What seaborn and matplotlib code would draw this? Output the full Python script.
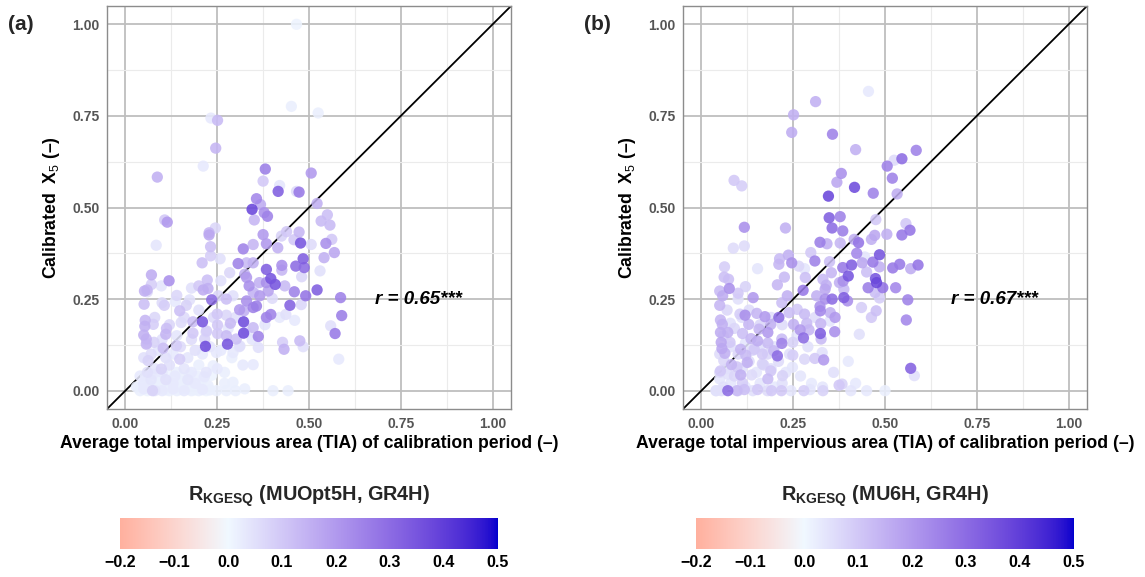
import numpy as np
import pandas as pd
import matplotlib
matplotlib.use("Agg")
import matplotlib.pyplot as plt
import seaborn as sns
from matplotlib.colors import ListedColormap, Normalize
from matplotlib.cm import ScalarMappable

# ---------------------------------------------------------------------------
# Data: TIA (x), calibrated X5 (y) and R_KGESQ (colour) per catchment
# ---------------------------------------------------------------------------
tia_a = [
    0.466, 0.452, 0.525, 0.233, 0.251, 0.246, 0.212, 0.087, 0.381, 0.506,
    0.375, 0.420, 0.416, 0.466, 0.473, 0.357, 0.368, 0.345, 0.522, 0.378,
    0.387, 0.550, 0.533, 0.557, 0.351, 0.107, 0.114, 0.245, 0.228, 0.228,
    0.439, 0.425, 0.473, 0.375, 0.477, 0.459, 0.506, 0.546, 0.562, 0.384,
    0.348, 0.321, 0.415, 0.084, 0.232, 0.569, 0.541, 0.484, 0.232, 0.258,
    0.209, 0.307, 0.330, 0.348, 0.426, 0.464, 0.487, 0.426, 0.384, 0.325,
    0.284, 0.530, 0.071, 0.119, 0.223, 0.330, 0.396, 0.408, 0.365, 0.480,
    0.434, 0.098, 0.071, 0.200, 0.212, 0.225, 0.337, 0.384, 0.052, 0.059,
    0.460, 0.522, 0.389, 0.348, 0.253, 0.275, 0.293, 0.366, 0.491, 0.586,
    0.400, 0.479, 0.235, 0.175, 0.136, 0.051, 0.106, 0.166, 0.330, 0.357,
    0.348, 0.311, 0.323, 0.448, 0.148, 0.250, 0.275, 0.384, 0.396, 0.437,
    0.589, 0.054, 0.461, 0.210, 0.322, 0.286, 0.184, 0.152, 0.076, 0.053,
    0.251, 0.559, 0.348, 0.112, 0.221, 0.322, 0.251, 0.571, 0.050, 0.110,
    0.184, 0.275, 0.362, 0.057, 0.216, 0.302, 0.475, 0.078, 0.278, 0.057,
    0.428, 0.218, 0.484, 0.139, 0.103, 0.432, 0.362, 0.312, 0.248, 0.293,
    0.148, 0.062, 0.581, 0.348, 0.239, 0.098, 0.293, 0.074, 0.248, 0.325,
    0.275, 0.402, 0.443,
    0.04, 0.05, 0.06, 0.07, 0.08, 0.09, 0.10, 0.11, 0.12, 0.13,
    0.14, 0.15, 0.16, 0.17, 0.18, 0.19, 0.20, 0.21, 0.22, 0.23,
    0.05, 0.07, 0.09, 0.11, 0.13, 0.15, 0.17, 0.19, 0.21, 0.06,
    0.08, 0.10, 0.12, 0.14, 0.16, 0.18, 0.20, 0.22, 0.25, 0.27,
    0.05, 0.07, 0.09, 0.11, 0.13, 0.15, 0.17, 0.19, 0.21, 0.23,
    0.26, 0.29, 0.31, 0.06, 0.10, 0.14, 0.18, 0.22, 0.12, 0.16,
    0.08, 0.20, 0.24, 0.28, 0.30, 0.33, 0.10, 0.14, 0.18, 0.06,
    0.26, 0.35, 0.42, 0.38, 0.04, 0.03, 0.345, 0.32, 0.27, 0.30,
    0.045, 0.065, 0.085, 0.105, 0.125, 0.145, 0.165, 0.185, 0.205, 0.225,
    0.055, 0.075, 0.095, 0.115, 0.135, 0.155, 0.175, 0.195, 0.215, 0.235,
]
x5_a = [
    1.000, 0.776, 0.758, 0.744, 0.738, 0.662, 0.613, 0.583, 0.605, 0.594,
    0.572, 0.560, 0.544, 0.544, 0.542, 0.524, 0.508, 0.495, 0.511, 0.486,
    0.476, 0.480, 0.463, 0.452, 0.466, 0.466, 0.460, 0.444, 0.431, 0.425,
    0.434, 0.422, 0.433, 0.426, 0.403, 0.412, 0.399, 0.402, 0.413, 0.401,
    0.399, 0.387, 0.390, 0.397, 0.393, 0.377, 0.363, 0.360, 0.368, 0.360,
    0.349, 0.347, 0.349, 0.349, 0.342, 0.340, 0.336, 0.329, 0.331, 0.318,
    0.322, 0.327, 0.316, 0.300, 0.302, 0.309, 0.306, 0.290, 0.295, 0.311,
    0.286, 0.286, 0.290, 0.286, 0.275, 0.279, 0.286, 0.295, 0.272, 0.275,
    0.270, 0.275, 0.272, 0.268, 0.259, 0.250, 0.259, 0.259, 0.259, 0.254,
    0.252, 0.235, 0.248, 0.248, 0.243, 0.236, 0.233, 0.233, 0.245, 0.231,
    0.227, 0.221, 0.218, 0.233, 0.218, 0.209, 0.206, 0.200, 0.208, 0.208,
    0.205, 0.192, 0.192, 0.188, 0.188, 0.184, 0.188, 0.186, 0.181, 0.176,
    0.179, 0.177, 0.172, 0.170, 0.163, 0.157, 0.156, 0.156, 0.152, 0.154,
    0.157, 0.150, 0.148, 0.141, 0.141, 0.141, 0.136, 0.132, 0.127, 0.127,
    0.132, 0.121, 0.120, 0.123, 0.116, 0.113, 0.118, 0.122, 0.104, 0.104,
    0.086, 0.082, 0.086, 0.071, 0.068, 0.059, 0.023, 0.000, 0.000, 0.005,
    0.000, 0.000, 0.000,
    0.000, 0.005, 0.000, 0.003, 0.000, 0.004, 0.000, 0.002, 0.000, 0.005,
    0.000, 0.003, 0.000, 0.004, 0.000, 0.002, 0.000, 0.003, 0.000, 0.002,
    0.020, 0.030, 0.020, 0.030, 0.020, 0.025, 0.030, 0.020, 0.030, 0.050,
    0.060, 0.050, 0.070, 0.050, 0.060, 0.050, 0.070, 0.050, 0.060, 0.050,
    0.090, 0.100, 0.110, 0.090, 0.100, 0.120, 0.090, 0.110, 0.100, 0.120,
    0.110, 0.090, 0.120, 0.130, 0.140, 0.150, 0.140, 0.160, 0.180, 0.200,
    0.200, 0.220, 0.200, 0.170, 0.200, 0.160, 0.240, 0.260, 0.280, 0.270,
    0.300, 0.270, 0.200, 0.180, 0.040, 0.010, 0.140, 0.070, 0.020, 0.000,
    0.012, 0.015, 0.010, 0.014, 0.012, 0.010, 0.015, 0.012, 0.010, 0.014,
    0.040, 0.045, 0.038, 0.042, 0.040, 0.036, 0.044, 0.040, 0.038, 0.042,
]
rk_a = [
    0.01, 0.02, 0.02, 0.03, 0.13, 0.14, 0.03, 0.15, 0.26, 0.20,
    0.10, 0.04, 0.33, 0.06, 0.27, 0.24, 0.16, 0.38, 0.15, 0.22,
    0.25, 0.12, 0.13, 0.13, 0.14, 0.10, 0.20, 0.07, 0.14, 0.17,
    0.10, 0.08, 0.14, 0.20, 0.35, 0.10, 0.06, 0.22, 0.10, 0.20,
    0.14, 0.25, 0.15, 0.04, 0.12, 0.17, 0.15, 0.33, 0.09, 0.05,
    0.12, 0.25, 0.13, 0.15, 0.22, 0.30, 0.30, 0.14, 0.33, 0.15,
    0.07, 0.05, 0.16, 0.22, 0.12, 0.20, 0.35, 0.35, 0.15, 0.07,
    0.13, 0.04, 0.09, 0.10, 0.16, 0.15, 0.22, 0.22, 0.15, 0.14,
    0.25, 0.33, 0.18, 0.14, 0.07, 0.12, 0.05, 0.20, 0.28, 0.25,
    0.06, 0.07, 0.30, 0.05, 0.03, 0.12, 0.09, 0.08, 0.22, 0.26,
    0.25, 0.20, 0.15, 0.32, 0.12, 0.10, 0.07, 0.25, 0.25, 0.05,
    0.26, 0.14, 0.03, 0.35, 0.37, 0.13, 0.12, 0.06, 0.09, 0.15,
    0.10, 0.05, 0.13, 0.12, 0.09, 0.37, 0.10, 0.27, 0.15, 0.14,
    0.10, 0.13, 0.25, 0.14, 0.08, 0.12, 0.13, 0.08, 0.35, 0.14,
    0.09, 0.37, 0.05, 0.09, 0.12, 0.15, 0.05, 0.05, 0.03, 0.03,
    0.09, 0.08, 0.03, 0.03, 0.02, 0.08, 0.02, 0.08, 0.02, 0.02,
    0.02, 0.02, 0.02,
    0.02, 0.03, 0.01, 0.02, 0.04, 0.02, 0.03, 0.01, 0.02, 0.03,
    0.02, 0.01, 0.03, 0.02, 0.02, 0.01, 0.02, 0.03, 0.01, 0.02,
    0.03, 0.04, 0.02, 0.05, 0.03, 0.02, 0.04, 0.03, 0.02, 0.05,
    0.04, 0.03, 0.05, 0.02, 0.04, 0.03, 0.02, 0.04, 0.03, 0.02,
    0.05, 0.06, 0.04, 0.05, 0.03, 0.06, 0.04, 0.05, 0.03, 0.04,
    0.03, 0.02, 0.04, 0.06, 0.05, 0.04, 0.06, 0.05, 0.07, 0.06,
    0.07, 0.05, 0.06, 0.04, 0.05, 0.03, 0.06, 0.07, 0.05, 0.06,
    0.05, 0.04, 0.03, 0.04, 0.03, 0.02, 0.04, 0.03, 0.02, 0.02,
    0.01, 0.02, 0.01, 0.02, 0.01, 0.02, 0.01, 0.02, 0.01, 0.02,
    0.02, 0.03, 0.02, 0.01, 0.03, 0.02, 0.01, 0.02, 0.03, 0.01,
]

tia_b = [
    0.455, 0.311, 0.251, 0.246, 0.357, 0.420, 0.585, 0.525, 0.546, 0.506,
    0.520, 0.381, 0.369, 0.417, 0.089, 0.110, 0.346, 0.468, 0.533, 0.475,
    0.348, 0.378, 0.117, 0.229, 0.356, 0.385, 0.557, 0.568, 0.505, 0.546,
    0.323, 0.342, 0.378, 0.416, 0.428, 0.463, 0.472, 0.087, 0.117, 0.298,
    0.237, 0.213, 0.309, 0.423, 0.445, 0.485, 0.467, 0.438, 0.349, 0.246,
    0.211, 0.265, 0.409, 0.385, 0.485, 0.540, 0.521, 0.590, 0.570, 0.063,
    0.153, 0.281, 0.354, 0.400, 0.450, 0.474, 0.477, 0.062, 0.074, 0.226,
    0.283, 0.331, 0.376, 0.386, 0.207, 0.340, 0.120, 0.454, 0.494, 0.529,
    0.050, 0.076, 0.058, 0.100, 0.277, 0.337, 0.388, 0.473, 0.141, 0.234,
    0.314, 0.337, 0.356, 0.388, 0.398, 0.485, 0.562, 0.050, 0.219, 0.261,
    0.323, 0.324, 0.436, 0.476, 0.119, 0.105, 0.151, 0.173, 0.211, 0.239,
    0.281, 0.351, 0.364, 0.463, 0.052, 0.558, 0.057, 0.079, 0.129, 0.189,
    0.251, 0.287, 0.325, 0.157, 0.181, 0.269, 0.293, 0.363, 0.052, 0.072,
    0.112, 0.324, 0.430, 0.135, 0.278, 0.219, 0.326, 0.054, 0.078, 0.153,
    0.181, 0.219, 0.249, 0.056, 0.107, 0.144, 0.197, 0.329, 0.064, 0.121,
    0.166, 0.207, 0.249, 0.281, 0.309, 0.333, 0.061, 0.125, 0.082, 0.166,
    0.097, 0.248, 0.570, 0.580, 0.052, 0.189, 0.107, 0.072, 0.137, 0.221,
    0.181, 0.050, 0.383, 0.375, 0.112, 0.072, 0.040, 0.097, 0.117, 0.153,
    0.191, 0.218, 0.244, 0.279, 0.296, 0.331, 0.407, 0.055,
    0.04, 0.06, 0.08, 0.10, 0.12, 0.14, 0.16, 0.18, 0.20, 0.22,
    0.05, 0.07, 0.09, 0.11, 0.13, 0.15, 0.17, 0.19, 0.21, 0.23,
    0.05, 0.08, 0.10, 0.12, 0.14, 0.16, 0.18, 0.20, 0.24, 0.06,
    0.09, 0.11, 0.13, 0.16, 0.19, 0.22, 0.07, 0.10, 0.26, 0.29,
    0.31, 0.35, 0.40, 0.45, 0.50, 0.42, 0.27, 0.30, 0.33, 0.36,
]
x5_b = [
    0.817, 0.789, 0.753, 0.705, 0.700, 0.658, 0.656, 0.629, 0.633, 0.613,
    0.580, 0.593, 0.569, 0.555, 0.574, 0.559, 0.531, 0.539, 0.537, 0.467,
    0.472, 0.475, 0.446, 0.444, 0.444, 0.436, 0.456, 0.438, 0.427, 0.425,
    0.405, 0.401, 0.403, 0.413, 0.404, 0.413, 0.424, 0.389, 0.395, 0.377,
    0.370, 0.360, 0.354, 0.375, 0.365, 0.371, 0.351, 0.349, 0.352, 0.349,
    0.345, 0.340, 0.343, 0.336, 0.338, 0.345, 0.335, 0.343, 0.333, 0.338,
    0.333, 0.333, 0.322, 0.313, 0.324, 0.306, 0.295, 0.310, 0.304, 0.310,
    0.309, 0.304, 0.295, 0.299, 0.289, 0.288, 0.284, 0.281, 0.281, 0.281,
    0.272, 0.279, 0.259, 0.266, 0.274, 0.277, 0.277, 0.268, 0.254, 0.259,
    0.259, 0.250, 0.250, 0.254, 0.245, 0.253, 0.248, 0.233, 0.240, 0.222,
    0.230, 0.218, 0.227, 0.218, 0.206, 0.209, 0.211, 0.202, 0.200, 0.213,
    0.209, 0.213, 0.200, 0.200, 0.193, 0.193, 0.181, 0.184, 0.181, 0.181,
    0.181, 0.184, 0.183, 0.168, 0.159, 0.166, 0.166, 0.161, 0.159, 0.159,
    0.156, 0.156, 0.154, 0.142, 0.144, 0.141, 0.141, 0.132, 0.132, 0.136,
    0.130, 0.129, 0.132, 0.115, 0.113, 0.113, 0.109, 0.104, 0.102, 0.097,
    0.100, 0.095, 0.097, 0.086, 0.088, 0.084, 0.082, 0.077, 0.071, 0.073,
    0.065, 0.064, 0.061, 0.041, 0.054, 0.054, 0.043, 0.045, 0.043, 0.041,
    0.032, 0.032, 0.018, 0.015, 0.021, 0.000, 0.000, 0.000, 0.003, 0.003,
    0.000, 0.000, 0.000, 0.000, 0.003, 0.000, 0.000, 0.000,
    0.000, 0.010, 0.020, 0.000, 0.010, 0.000, 0.020, 0.000, 0.010, 0.020,
    0.050, 0.060, 0.040, 0.060, 0.080, 0.050, 0.070, 0.060, 0.080, 0.050,
    0.100, 0.120, 0.100, 0.130, 0.110, 0.120, 0.100, 0.120, 0.100, 0.150,
    0.170, 0.200, 0.220, 0.180, 0.200, 0.180, 0.220, 0.250, 0.150, 0.120,
    0.200, 0.190, 0.080, 0.000, 0.000, 0.020, 0.040, 0.020, 0.010, 0.050,
]
rk_b = [
    0.03, 0.15, 0.15, 0.16, 0.25, 0.15, 0.25, 0.06, 0.30, 0.25,
    0.25, 0.22, 0.17, 0.37, 0.10, 0.09, 0.38, 0.25, 0.16, 0.10,
    0.33, 0.25, 0.22, 0.15, 0.30, 0.26, 0.10, 0.28, 0.15, 0.27,
    0.26, 0.15, 0.14, 0.15, 0.28, 0.15, 0.17, 0.06, 0.06, 0.10,
    0.15, 0.13, 0.25, 0.24, 0.04, 0.35, 0.27, 0.17, 0.12, 0.22,
    0.14, 0.07, 0.33, 0.27, 0.15, 0.27, 0.27, 0.28, 0.16, 0.09,
    0.04, 0.04, 0.14, 0.35, 0.12, 0.35, 0.38, 0.12, 0.12, 0.13,
    0.12, 0.13, 0.15, 0.22, 0.14, 0.15, 0.08, 0.26, 0.28, 0.24,
    0.13, 0.22, 0.16, 0.10, 0.27, 0.17, 0.13, 0.12, 0.20, 0.15,
    0.15, 0.22, 0.30, 0.33, 0.22, 0.09, 0.25, 0.14, 0.12, 0.10,
    0.22, 0.24, 0.09, 0.12, 0.22, 0.09, 0.14, 0.20, 0.30, 0.12,
    0.13, 0.15, 0.20, 0.10, 0.14, 0.24, 0.15, 0.05, 0.14, 0.15,
    0.15, 0.13, 0.14, 0.14, 0.20, 0.20, 0.14, 0.22, 0.16, 0.15,
    0.12, 0.33, 0.05, 0.14, 0.30, 0.13, 0.13, 0.17, 0.10, 0.16,
    0.13, 0.25, 0.08, 0.17, 0.14, 0.10, 0.13, 0.05, 0.15, 0.13,
    0.10, 0.30, 0.09, 0.07, 0.10, 0.20, 0.07, 0.15, 0.14, 0.08,
    0.10, 0.04, 0.32, 0.05, 0.10, 0.10, 0.15, 0.05, 0.06, 0.08,
    0.13, 0.04, 0.08, 0.10, 0.09, 0.30, 0.05, 0.13, 0.12, 0.10,
    0.10, 0.10, 0.04, 0.09, 0.04, 0.08, 0.04, 0.05,
    0.03, 0.05, 0.04, 0.06, 0.03, 0.05, 0.04, 0.06, 0.03, 0.05,
    0.06, 0.04, 0.07, 0.05, 0.06, 0.04, 0.07, 0.05, 0.06, 0.04,
    0.06, 0.05, 0.07, 0.04, 0.06, 0.05, 0.07, 0.04, 0.05, 0.06,
    0.07, 0.05, 0.06, 0.07, 0.05, 0.06, 0.07, 0.05, 0.04, 0.05,
    0.06, 0.04, 0.03, 0.03, 0.02, 0.03, 0.04, 0.03, 0.04, 0.05,
]

panel_tags = ["(a)", "(b)"]
corr_labels = ["r = 0.65***", "r = 0.67***"]
model_pairs = ["MUOpt5H, GR4H", "MU6H, GR4H"]
axis_ticks = [0.0, 0.25, 0.5, 0.75, 1.0]
cbar_ticks = [-0.2, -0.1, 0.0, 0.1, 0.2, 0.3, 0.4, 0.5]

# ---------------------------------------------------------------------------
# Diverging colour scale interpolated in CIE Lab (low -> mid -> high)
# ---------------------------------------------------------------------------
_M = np.array([[0.4124564, 0.3575761, 0.1804375],
               [0.2126729, 0.7151522, 0.0721750],
               [0.0193339, 0.1191920, 0.9503041]])
_WHITE = np.array([0.95047, 1.0, 1.08883])


def to_lab(rgb):
    rgb = np.asarray(rgb, float)
    lin = np.where(rgb <= 0.04045, rgb / 12.92, ((rgb + 0.055) / 1.055) ** 2.4)
    xyz = lin @ _M.T / _WHITE
    d = 6 / 29
    f = np.where(xyz > d ** 3, np.cbrt(xyz), xyz / (3 * d * d) + 4 / 29)
    return np.stack([116 * f[..., 1] - 16,
                     500 * (f[..., 0] - f[..., 1]),
                     200 * (f[..., 1] - f[..., 2])], -1)


def from_lab(lab):
    fy = (lab[..., 0] + 16) / 116
    fx = fy + lab[..., 1] / 500
    fz = fy - lab[..., 2] / 200
    d = 6 / 29
    finv = lambda t: np.where(t > d, t ** 3, 3 * d * d * (t - 4 / 29))
    xyz = np.stack([finv(fx), finv(fy), finv(fz)], -1) * _WHITE
    lin = np.clip(xyz @ np.linalg.inv(_M).T, 0, 1)
    rgb = np.where(lin <= 0.0031308, 12.92 * lin, 1.055 * lin ** (1 / 2.4) - 0.055)
    return np.clip(rgb, 0, 1)


vmin, vmax = -0.2, 0.5
low_lab = to_lab(np.array([255, 176, 158]) / 255)
mid_lab = to_lab(np.array([240, 248, 255]) / 255)
high_lab = to_lab(np.array([0, 0, 205]) / 255)
grid_vals = np.linspace(vmin, vmax, 512)
labs = []
for v in grid_vals:
    if v < 0:
        t = v / vmin
        labs.append(mid_lab + t * (low_lab - mid_lab))
    else:
        t = v / vmax
        labs.append(mid_lab + t * (high_lab - mid_lab))
cmap = ListedColormap(from_lab(np.array(labs)))
norm = Normalize(vmin=vmin, vmax=vmax)

# ---------------------------------------------------------------------------
# Figure
# ---------------------------------------------------------------------------
sns.set_theme(style="white")
plt.rcParams["font.family"] = ["Liberation Sans", "DejaVu Sans"]
plt.rcParams["mathtext.fontset"] = "custom"
plt.rcParams["mathtext.rm"] = "Liberation Sans"
plt.rcParams["mathtext.bf"] = "Liberation Sans:bold"
plt.rcParams["mathtext.it"] = "Liberation Sans:italic"
plt.rcParams["axes.unicode_minus"] = True

W, H = 1145, 577
fig = plt.figure(figsize=(W / 100, H / 100), dpi=100)

panels = [
    (tia_a, x5_a, rk_a, 107, 120),
    (tia_b, x5_b, rk_b, 683, 696),
]

for i, (tx, ty, tc, left_px, cb_left_px) in enumerate(panels):
    ax = fig.add_axes([left_px / W, 1 - 409 / H, 404 / W, 403 / H])
    df = pd.DataFrame({"tia": tx, "x5": ty, "r": tc}).sort_values("r")

    ax.set_axisbelow(True)
    ax.plot([-0.05, 1.05], [-0.05, 1.05], color="black", lw=1.3, zorder=1)
    sns.scatterplot(data=df, x="tia", y="x5", hue="r", palette=cmap,
                    hue_norm=norm, s=66, linewidth=0, alpha=0.88,
                    legend=False, ax=ax, zorder=2)

    ax.set_xlim(-0.05, 1.05)
    ax.set_ylim(-0.05, 1.05)
    ax.set_xticks(axis_ticks)
    ax.set_yticks(axis_ticks)
    ax.set_xticks([0.125, 0.375, 0.625, 0.875], minor=True)
    ax.set_yticks([0.125, 0.375, 0.625, 0.875], minor=True)
    ax.set_xticklabels([f"{t:.2f}" for t in axis_ticks])
    ax.set_yticklabels([f"{t:.2f}" for t in axis_ticks])
    ax.grid(which="major", color="#BEBEBE", lw=1.3)
    ax.grid(which="minor", color="#EBEBEB", lw=0.8)
    for sp in ax.spines.values():
        sp.set_color("#8C8C8C")
        sp.set_linewidth(1.0)
    ax.tick_params(which="major", length=2.5, color="#8C8C8C",
                   labelcolor="#555555", labelsize=10, pad=3)
    ax.tick_params(which="minor", length=0)
    for lab in ax.get_xticklabels() + ax.get_yticklabels():
        lab.set_fontweight("bold")

    ax.set_xlabel("Average total impervious area (TIA) of calibration period (–)",
                  fontsize=12.7, fontweight="bold", color="black", labelpad=3)
    ax.set_ylabel("Calibrated  X$_{5}$ (–)", fontsize=12.7,
                  fontweight="bold", color="black", labelpad=7)

    ax.text(0.68, 0.25, corr_labels[i], fontsize=13.5, fontweight="bold",
            style="italic", ha="left", va="center", color="black")

    fig.text((left_px - 99) / W, 1 - 25 / H, panel_tags[i], fontsize=15,
             fontweight="bold", ha="left", va="center")

    # colour bar
    cax = fig.add_axes([cb_left_px / W, 1 - 549 / H, 378 / W, 31 / H])
    cb = fig.colorbar(ScalarMappable(norm=norm, cmap=cmap), cax=cax,
                      orientation="horizontal", ticks=cbar_ticks)
    cb.outline.set_visible(False)
    cax.xaxis.set_ticks_position("both")
    cax.tick_params(axis="x", which="major", direction="in", length=5,
                    width=1, color="white", labelcolor="black",
                    labelsize=11.5, labeltop=False, labelbottom=True, pad=4)
    cax.tick_params(axis="x", which="minor", length=0)
    cax.set_xticklabels([f"{t:.1f}".replace("-", "\u2212") for t in cbar_ticks])
    for lab in cax.get_xticklabels():
        lab.set_fontweight("bold")
    fig.text((cb_left_px + 189) / W, 1 - 496 / H,
             r"$\mathbf{R_{KGESQ}}$ (" + model_pairs[i] + ")",
             fontsize=14.3, fontweight="bold", ha="center", va="center")

fig.savefig("out.png", dpi=100)
